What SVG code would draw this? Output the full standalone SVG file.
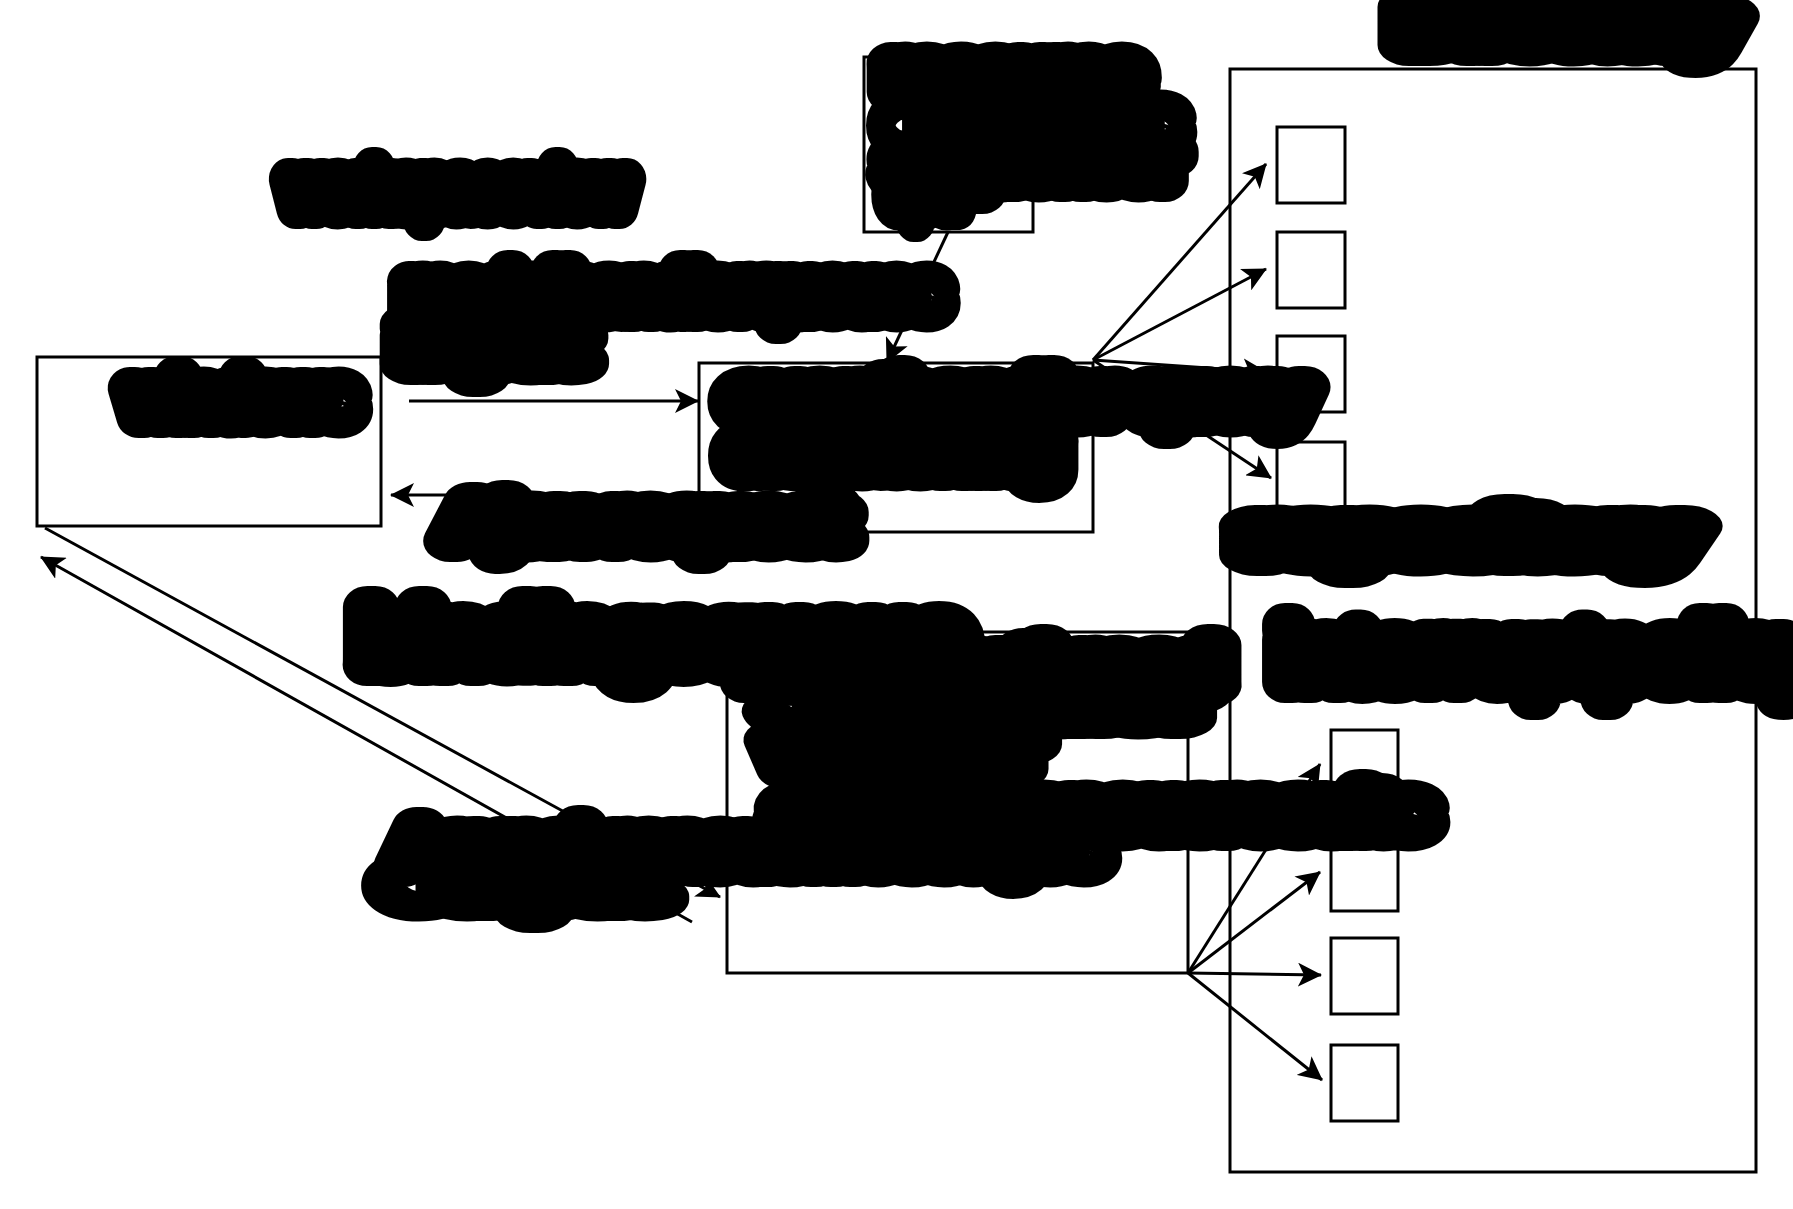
<svg xmlns="http://www.w3.org/2000/svg" width="1793" height="1209" viewBox="0 0 1793 1209">
<style>
.box{fill:#fff;stroke:#000;stroke-width:3}
.edge{fill:none;stroke:#000;stroke-width:3}
.arr{marker-end:url(#ah)}
.t{font-family:"Liberation Sans",Arial,sans-serif;font-size:55px;fill:#000;stroke:#000;stroke-width:42px;stroke-linejoin:round;stroke-linecap:round}
.big{font-size:80px}
</style>
<defs>
<marker id="ah" markerUnits="userSpaceOnUse" viewBox="0 0 24 24" markerWidth="24" markerHeight="24" refX="23" refY="12" orient="auto">
<path d="M0,0 L24,12 L0,24 L6,12 z" fill="#000"/>
</marker>
</defs>
<rect width="1793" height="1209" fill="#fff"/>
<g id="container">
<rect class="box" x="1230" y="69" width="526" height="1103"/>
</g>
<g id="windows"><rect class="box" x="37" y="357" width="344" height="169"/></g>
<g id="middle"><rect class="box" x="699" y="363" width="394" height="169"/></g>
<g id="topbox"><rect class="box" x="864" y="57" width="169" height="175"/></g>
<g id="bottombox"><rect class="box" x="727" y="632" width="461" height="341"/></g>
<g id="slots-upper">
<rect class="box" x="1277" y="127" width="68" height="76"/>
<rect class="box" x="1277" y="232" width="68" height="76"/>
<rect class="box" x="1277" y="336" width="68" height="76"/>
<rect class="box" x="1277" y="442" width="68" height="76"/>
</g>
<g id="slots-lower">
<rect class="box" x="1331" y="730" width="67" height="76"/>
<rect class="box" x="1331" y="835" width="67" height="76"/>
<rect class="box" x="1331" y="938" width="67" height="76"/>
<rect class="box" x="1331" y="1045" width="67" height="76"/>
</g>
<g id="connectors">
<path class="edge arr" d="M409,401 L698,401"/>
<path class="edge arr" d="M699,495 L391,495"/>
<path class="edge arr" d="M948,232 L887,362"/>
<path class="edge arr" d="M45,528 L720,897"/>
<path class="edge arr" d="M692,922 L41,557"/>
<path class="edge arr" d="M1093,360 L1266,164"/>
<path class="edge arr" d="M1093,360 L1266,269"/>
<path class="edge arr" d="M1093,360 L1266,372"/>
<path class="edge arr" d="M1093,360 L1271,478"/>
<path class="edge arr" d="M1188,973 L1320,764"/>
<path class="edge arr" d="M1188,973 L1320,872"/>
<path class="edge arr" d="M1188,973 L1321,975"/>
<path class="edge arr" d="M1188,973 L1322,1080"/>
</g>
<g id="labels">
<text class="t" x="1402" y="45" textLength="327" lengthAdjust="spacingAndGlyphs">Directory</text>
<text class="t" x="1250" y="555" textLength="435" lengthAdjust="spacingAndGlyphs">repository</text>
<text class="t" x="887" y="92" textLength="253" lengthAdjust="spacingAndGlyphs">resource</text>
<text class="t" x="887" y="140" textLength="289" lengthAdjust="spacingAndGlyphs">operations</text>
<text class="t" x="887" y="181" textLength="289" lengthAdjust="spacingAndGlyphs">sequencer</text>
<text class="t" x="887" y="209" textLength="75" lengthAdjust="spacingAndGlyphs">cpu</text>
<text class="t" x="288" y="208" textLength="339" lengthAdjust="spacingAndGlyphs">workspaceview</text>
<text class="t" x="405" y="311" textLength="536" lengthAdjust="spacingAndGlyphs">modelhandlerqueues</text>
<text class="t" x="405" y="364" textLength="174" lengthAdjust="spacingAndGlyphs">input</text>
<text class="t" x="130" y="417" textLength="223" lengthAdjust="spacingAndGlyphs">windows</text>
<text class="t" x="730" y="416" textLength="575" lengthAdjust="spacingAndGlyphs">eventhandler query</text>
<text class="t" x="730" y="470" textLength="328" lengthAdjust="spacingAndGlyphs">dispatching</text>
<text class="t" x="450" y="541" textLength="393" lengthAdjust="spacingAndGlyphs">Ajax request</text>
<text class="t big" x="361" y="665" textLength="604" lengthAdjust="spacingAndGlyphs">bindingsqueue</text>
<text class="t big" x="1279" y="682" textLength="540" lengthAdjust="spacingAndGlyphs">interruptpolicy</text>
<text class="t" x="776" y="685" textLength="443" lengthAdjust="spacingAndGlyphs">handlerthread</text>
<text class="t" x="776" y="718" textLength="421" lengthAdjust="spacingAndGlyphs">scheduler</text>
<text class="t" x="776" y="769" textLength="255" lengthAdjust="spacingAndGlyphs">worker</text>
<text class="t" x="776" y="830" textLength="650" lengthAdjust="spacingAndGlyphs">asynchronousresults</text>
<text class="t" x="398" y="866" textLength="702" lengthAdjust="spacingAndGlyphs">Asynchronousmessages</text>
<text class="t" x="393" y="900" textLength="261" lengthAdjust="spacingAndGlyphs">output</text>
</g>
</svg>
